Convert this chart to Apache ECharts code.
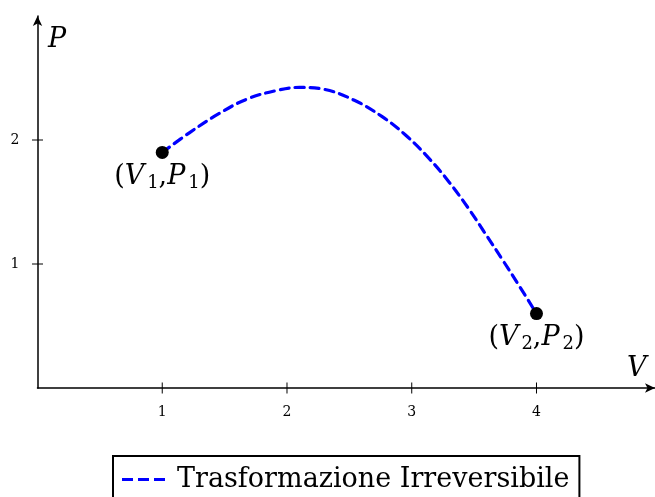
<!DOCTYPE html>
<html><head><meta charset="utf-8">
<script src="https://cdn.jsdelivr.net/npm/echarts@6/dist/echarts.min.js"></script>
<style>html,body{margin:0;padding:0;background:#fff}#c{width:655px;height:497px}</style>
</head><body><div id="c"></div>
<script>
const curveV = [1.00, 1.22, 1.45, 1.68, 1.92, 2.10, 2.29, 2.54, 2.76, 2.95, 3.14, 3.30, 3.45, 3.58, 3.73, 3.87, 4.00];
const curveP = [1.90, 2.06, 2.21, 2.33, 2.40, 2.424, 2.41, 2.32, 2.19, 2.04, 1.85, 1.66, 1.455, 1.26, 1.03, 0.81, 0.60];
const pointV = [1, 4];
const pointP = [1.90, 0.60];
const pointSub = ['1', '2'];
const xTicks = [1, 2, 3, 4];
const yTicks = [1, 2];
const seriesName = 'Trasformazione Irreversibile';

const chart = echarts.init(document.getElementById('c'));
const serif = 'DejaVu Serif';
const curveData = curveV.map((v, i) => [v, curveP[i]]);
const pts = pointV.map((v, i) => ({value: [v, pointP[i]], sub: pointSub[i]}));
const tickData = xTicks.map(v => [v, 0, 'x']).concat(yTicks.map(v => [0, v, 'y']));

const option = {
  animation: false,
  grid: {left: 37.5, right: 0, top: 16, bottom: 109, containLabel: false},
  xAxis: {type: 'value', min: 0, max: 4.95,
     axisLine: {show: true, onZero: false, lineStyle: {color: '#000', width: 1.5}, symbol: ['none', 'arrow'], symbolSize: [7, 10]},
     axisTick: {show: false},
     axisLabel: {show: true, customValues: xTicks, color: '#000', fontFamily: serif, fontSize: 14, margin: 17},
     splitLine: {show: false}},
  yAxis: {type: 'value', min: 0, max: 3,
     axisLine: {show: true, onZero: false, lineStyle: {color: '#000', width: 1.5}, symbol: ['none', 'arrow'], symbolSize: [7, 10]},
     axisTick: {show: false},
     axisLabel: {show: true, customValues: yTicks, color: '#000', fontFamily: serif, fontSize: 14, margin: 18},
     splitLine: {show: false}},
  legend: {
    show: true, left: 113, top: 456, orient: 'horizontal',
    data: [{name: seriesName, icon: 'path://M0,0h11v3h-11zM16,0h11v3h-11zM32,0h11v3h-11z'}],
    borderColor: '#000', borderWidth: 2, borderRadius: 0,
    padding: [10, 10, 12, 9],
    itemWidth: 43, itemHeight: 3, itemGap: 10,
    textStyle: {fontFamily: serif, fontSize: 27, color: '#000', padding: [0, 0, 0, 7]},
  },
  graphic: [
    {type: 'text', left: 48, top: 26, style: {text: 'P', font: 'italic 27px "DejaVu Serif"', fill: '#000'}},
    {type: 'text', left: 627, top: 355, style: {text: 'V', font: 'italic 27px "DejaVu Serif"', fill: '#000'}}
  ],
  series: [
    {name: seriesName, type: 'line', data: curveData, smooth: 0.4, symbol: 'none',
     lineStyle: {color: '#0000ff', width: 3.2, type: [9, 6], cap: 'round'}, itemStyle: {color: '#0000ff'}, z: 2},
    {type: 'custom', data: tickData, clip: false, silent: true, z: 4,
     renderItem: (params, api) => {
       const c = api.coord([api.value(0), api.value(1)]);
       const isX = tickData[params.dataIndex][2] === 'x';
       const shape = isX ? {x1: c[0], y1: c[1] - 5.5, x2: c[0], y2: c[1] + 5.5}
                         : {x1: c[0] - 5.5, y1: c[1], x2: c[0] + 5.5, y2: c[1]};
       return {type: 'line', shape: shape, style: {stroke: '#000', lineWidth: 1}};
     }},
    {type: 'scatter', data: pts, symbolSize: 13, itemStyle: {color: '#000', opacity: 1}, z: 3,
     label: {show: true, position: 'bottom', distance: 3,
       formatter: p => '{n|(}{i|V}{s|' + p.data.sub + '}{n|,}{i|P}{s|' + p.data.sub + '}{n|)}',
       rich: {
         n: {fontFamily: serif, fontSize: 27, color: '#000'},
         i: {fontFamily: serif, fontStyle: 'italic', fontSize: 27, color: '#000'},
         s: {fontFamily: serif, fontSize: 18, color: '#000', padding: [12, 0, 0, 3]}
       }}}
  ]
};
chart.setOption(option);
</script></body></html>
